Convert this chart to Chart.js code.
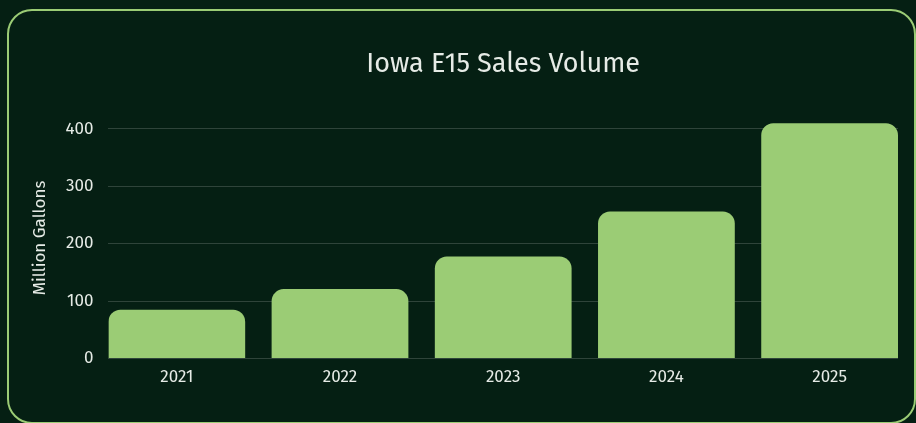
<!DOCTYPE html>
<html>
<head>
<meta charset="utf-8">
<script src="https://cdn.jsdelivr.net/npm/chart.js@4.4.1/dist/chart.umd.min.js"></script>
<style>
    html, body { margin: 0; padding: 0; background: #051f13; overflow: hidden; }
    .card {
        position: absolute;
        left: 7px; top: 9px;
        width: 905px; height: 411px;
        border: 2px solid #9bcc75;
        border-radius: 25px;
    }
    #wrap { position: absolute; left: 0; top: 0; width: 916px; height: 423px; }
</style>
</head>
<body>
<div class="card"></div>
<div id="wrap"><canvas id="salesChart"></canvas></div>
<script>
var years  = ['2021', '2022', '2023', '2024', '2025'];
var volume = [85, 121, 178, 256, 410];
var yTicks = [0, 100, 200, 300, 400];

var barFrac = 0.838;
var textColor = '#e6ebe6';
var fontFamily = "'Fira Sans', Roboto, 'Noto Sans', sans-serif";

new Chart(document.getElementById('salesChart').getContext('2d'), {
    type: 'bar',
    data: {
        datasets: [{
            data: volume.map(function (v, i) { return { x: i, y: v }; }),
            backgroundColor: '#9bcc75',
            borderWidth: 0,
            borderRadius: 12,
            categoryPercentage: 1,
            barPercentage: barFrac
        }]
    },
    options: {
        responsive: true,
        maintainAspectRatio: false,
        animation: false,
        layout: { padding: { top: 18, left: 25, right: 18, bottom: 28 } },
        plugins: {
            legend: { display: false },
            tooltip: { enabled: false },
            title: {
                display: true,
                fullSize: false,
                text: 'Iowa E15 Sales Volume',
                color: textColor,
                font: { family: fontFamily, size: 27, weight: 'normal' },
                padding: { top: 30, bottom: 37 }
            }
        },
        scales: {
            x: {
                type: 'linear',
                offset: false,
                bounds: 'data',
                min: -barFrac / 2,
                max: years.length - 1 + barFrac / 2,
                grid: { display: false, drawTicks: false },
                border: { display: false },
                afterBuildTicks: function (axis) {
                    axis.ticks = years.map(function (y, i) { return { value: i }; });
                },
                ticks: {
                    autoSkip: false,
                    maxRotation: 0,
                    padding: 8,
                    color: textColor,
                    font: { family: fontFamily, size: 17 },
                    callback: function (v) { return years[v] !== undefined ? years[v] : ''; }
                }
            },
            y: {
                min: 0,
                max: 420,
                grid: { color: 'rgba(255,255,255,0.17)', drawTicks: false },
                border: { display: false },
                afterBuildTicks: function (axis) {
                    axis.ticks = yTicks.map(function (v) { return { value: v }; });
                },
                ticks: {
                    padding: 15,
                    color: textColor,
                    font: { family: fontFamily, size: 17 }
                },
                title: {
                    display: true,
                    text: 'Million Gallons',
                    color: textColor,
                    font: { family: fontFamily, size: 17 },
                    padding: { top: 5, bottom: 0 }
                }
            }
        }
    }
});
</script>
</body>
</html>
